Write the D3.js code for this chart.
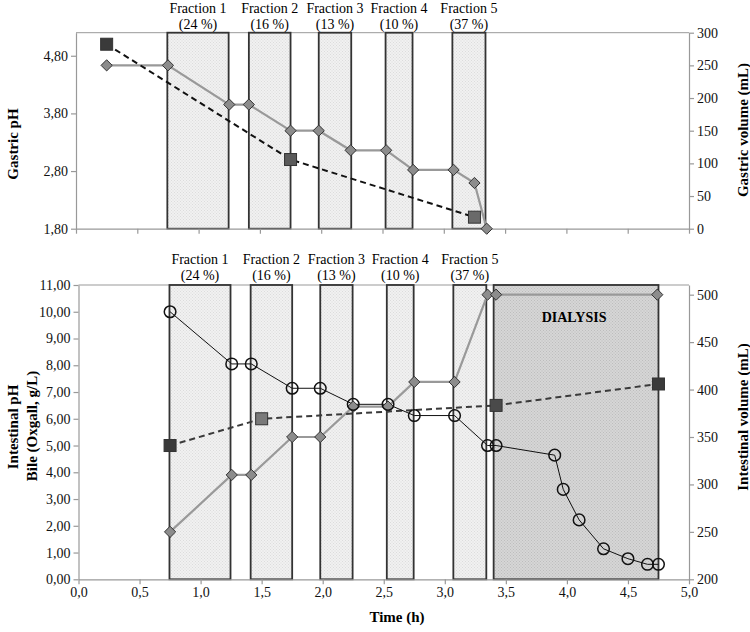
<!DOCTYPE html>
<html><head><meta charset="utf-8">
<script src="https://cdn.jsdelivr.net/npm/d3@7"></script>
<style>body{margin:0;background:#fff}svg{display:block}</style>
</head><body>
<svg id="c" width="750" height="632"></svg>
<script>
// ---- data ----
const fractionLabels = ["Fraction 1","Fraction 2","Fraction 3","Fraction 4","Fraction 5"];
const fractionPct = ["(24 %)","(16 %)","(13 %)","(10 %)","(37 %)"];
const fractionStart = [0.745,1.41,1.98,2.525,3.07];
const fractionEnd = [1.245,1.75,2.245,2.745,3.34];
const dialysisStart = 3.40, dialysisEnd = 4.75;

const gastricVolTime = [0.25,0.75,1.25,1.41,1.75,1.98,2.24,2.53,2.75,3.08,3.25,3.35];
const gastricVol = [250,250,190,190,150,150,120,120,90,90,70,0];
const gastricPhTime = [0.25,1.75,3.25];
const gastricPh = [5.0,3.0,2.0];

const bileTime = [0.75,1.255,1.415,1.75,1.98,2.25,2.535,2.75,3.08,3.35,3.42,3.90,3.97,4.10,4.30,4.50,4.66,4.75];
const bile = [10.0,8.05,8.05,7.14,7.14,6.54,6.54,6.12,6.12,5.0,5.0,4.64,3.36,2.22,1.14,0.77,0.56,0.56];
const intVolTime = [0.75,1.255,1.415,1.75,1.98,2.25,2.535,2.75,3.08,3.35,3.42,4.74];
const intVol = [250,310,310,350,350,382,382,408,408,500,500,500];
const intPhTime = [0.75,1.5,3.42,4.75];
const intPh = [5.0,6.0,6.5,7.3];

const gastricPhTicks = [1.8,2.8,3.8,4.8];
const gastricVolTicks = [0,50,100,150,200,250,300];
const intPhTicks = [0,1,2,3,4,5,6,7,8,9,10,11];
const intVolTicks = [200,250,300,350,400,450,500];
const timeTicks = [0,0.5,1,1.5,2,2.5,3,3.5,4,4.5,5];

// ---- setup ----
const svg = d3.select("#c");
const FONT = "'Liberation Serif','Times New Roman',serif";
const comma = (d, n) => d.toFixed(n).replace(".", ",");

const defs = svg.append("defs");
function pattern(id, bg, dot) {
  const p = defs.append("pattern").attr("id", id).attr("width", 3).attr("height", 3)
    .attr("patternUnits", "userSpaceOnUse");
  p.append("rect").attr("width", 3).attr("height", 3).attr("fill", bg);
  p.append("rect").attr("width", 1).attr("height", 1).attr("fill", dot);
  p.append("rect").attr("x", 1.5).attr("y", 1.5).attr("width", 1).attr("height", 1).attr("fill", dot);
}
pattern("pLight", "#f1f1f1", "#dcdcdc");
pattern("pDark", "#d6d6d6", "#bdbdbd");

function diamond(g, x, y, fill) {
  g.append("path").attr("d", d3.symbol(d3.symbolDiamond2, 80)())
    .attr("transform", `translate(${x},${y})`)
    .attr("fill", fill).attr("stroke", "#333").attr("stroke-width", 1);
}
function square(g, x, y, fill) {
  g.append("rect").attr("x", x - 6).attr("y", y - 6).attr("width", 12).attr("height", 12)
    .attr("fill", fill).attr("stroke", "#333").attr("stroke-width", 1);
}

function panel(opt) {
  const g = svg.append("g");
  const x = d3.scaleLinear().domain([0, 5]).range([opt.x0, 689]);
  const yL = d3.scaleLinear().domain(opt.leftDomain).range([opt.bottom, opt.top]);
  const yR = d3.scaleLinear().domain(opt.rightDomain).range([opt.bottom, opt.top]);

  // top border
  g.append("line").attr("x1", opt.x0).attr("x2", 689).attr("y1", opt.top).attr("y2", opt.top)
    .attr("stroke", "#999").attr("stroke-width", 1);

  // fraction boxes
  fractionStart.forEach((s, i) => {
    g.append("rect").attr("x", x(s)).attr("y", opt.top)
      .attr("width", x(fractionEnd[i]) - x(s)).attr("height", opt.bottom - opt.top)
      .attr("fill", "url(#pLight)").attr("stroke", "#333").attr("stroke-width", 1.8);
    const cx = (x(s) + x(fractionEnd[i])) / 2;
    g.append("text").attr("x", cx).attr("y", opt.labelY).attr("text-anchor", "middle")
      .attr("font-family", FONT).attr("font-size", 14).text(fractionLabels[i]);
    g.append("text").attr("x", cx).attr("y", opt.labelY + 16).attr("text-anchor", "middle")
      .attr("font-family", FONT).attr("font-size", 14).text(fractionPct[i]);
  });
  if (opt.dialysis) {
    g.append("rect").attr("x", x(dialysisStart)).attr("y", opt.top)
      .attr("width", x(dialysisEnd) - x(dialysisStart)).attr("height", opt.bottom - opt.top)
      .attr("fill", "url(#pDark)").attr("stroke", "#333").attr("stroke-width", 1.8);
    g.append("text").attr("x", (x(dialysisStart) + x(dialysisEnd)) / 2 - 2).attr("y", opt.top + 37)
      .attr("text-anchor", "middle").attr("font-family", FONT).attr("font-size", 14)
      .attr("font-weight", "bold").text("DIALYSIS");
  }

  // axes
  const ax = d3.axisBottom(x).tickValues(timeTicks).tickSizeInner(5).tickSizeOuter(0)
    .tickFormat(opt.showX ? d => comma(d, 1) : "");
  const axL = d3.axisLeft(yL).tickValues(opt.leftTicks).tickSizeInner(5).tickSizeOuter(0)
    .tickFormat(d => comma(d, 2));
  const axR = d3.axisRight(yR).tickValues(opt.rightTicks).tickSizeInner(5).tickSizeOuter(0)
    .tickFormat(d3.format("d"));
  [[ax, `translate(0,${opt.bottom})`], [axL, `translate(${opt.x0},0)`], [axR, `translate(689,0)`]]
    .forEach(([a, t]) => {
      const ag = g.append("g").attr("transform", t).call(a);
      ag.selectAll("path,line").attr("stroke", "#999").attr("stroke-width", 1.2);
      ag.selectAll("text").attr("font-family", FONT).attr("font-size", 14).attr("fill", "#111");
    });
  return {g, x, yL, yR};
}

// ---- top panel ----
const T = panel({x0: 76, top: 32.7, bottom: 228.7, leftDomain: [1.8, 5.2], rightDomain: [0, 300],
  leftTicks: gastricPhTicks, rightTicks: gastricVolTicks, labelY: 13, showX: false});
{
  const {g, x, yL, yR} = T;
  g.append("path").datum(gastricVolTime.map((t, i) => [x(t), yR(gastricVol[i])]))
    .attr("d", d3.line()).attr("fill", "none").attr("stroke", "#999").attr("stroke-width", 2.2);
  g.append("path").datum(gastricPhTime.map((t, i) => [x(t), yL(gastricPh[i])]))
    .attr("d", d3.line()).attr("fill", "none").attr("stroke", "#111").attr("stroke-width", 2)
    .attr("stroke-dasharray", "6,4");
  gastricVolTime.forEach((t, i) => diamond(g, x(t), yR(gastricVol[i]), "#8c8c8c"));
  const sqFill = ["#3a3a3a", "#5a5a5a", "#6a6a6a"];
  gastricPhTime.forEach((t, i) => square(g, x(t), yL(gastricPh[i]), sqFill[i]));
}

// ---- bottom panel ----
const B = panel({x0: 78.5, top: 285, bottom: 579.3, leftDomain: [0, 11], rightDomain: [200, 510.2],
  leftTicks: intPhTicks, rightTicks: intVolTicks, labelY: 264, showX: true, dialysis: true});
{
  const {g, x, yL, yR} = B;
  g.append("path").datum(intVolTime.map((t, i) => [x(t), yR(intVol[i])]))
    .attr("d", d3.line()).attr("fill", "none").attr("stroke", "#999").attr("stroke-width", 2.2);
  g.append("path").datum(intPhTime.map((t, i) => [x(t), yL(intPh[i])]))
    .attr("d", d3.line()).attr("fill", "none").attr("stroke", "#3a3a3a").attr("stroke-width", 2)
    .attr("stroke-dasharray", "6,4");
  g.append("path").datum(bileTime.map((t, i) => [x(t), yL(bile[i])]))
    .attr("d", d3.line()).attr("fill", "none").attr("stroke", "#111").attr("stroke-width", 1);
  intVolTime.forEach((t, i) => diamond(g, x(t), yR(intVol[i]), "#8c8c8c"));
  const sqFill = ["#3a3a3a", "#7a7a7a", "#4a4a4a", "#3a3a3a"];
  intPhTime.forEach((t, i) => square(g, x(t), yL(intPh[i]), sqFill[i]));
  bileTime.forEach((t, i) => g.append("circle").attr("cx", x(t)).attr("cy", yL(bile[i])).attr("r", 5.8)
    .attr("fill", "none").attr("stroke", "#111").attr("stroke-width", 1.5));
}

// ---- axis titles ----
function vtitle(x, y, txt) {
  svg.append("text").attr("transform", `translate(${x},${y}) rotate(-90)`).attr("text-anchor", "middle")
    .attr("font-family", FONT).attr("font-size", 15).attr("font-weight", "bold").text(txt);
}
vtitle(18, 144, "Gastric pH");
vtitle(748, 130, "Gastric volume (mL)");
vtitle(18, 427, "Intestinal pH");
vtitle(37, 426, "Bile (Oxgall, g/L)");
vtitle(748, 417, "Intestinal volume (mL)");
svg.append("text").attr("x", 397).attr("y", 622).attr("text-anchor", "middle")
  .attr("font-family", FONT).attr("font-size", 15).attr("font-weight", "bold").text("Time (h)");
</script>
</body></html>
